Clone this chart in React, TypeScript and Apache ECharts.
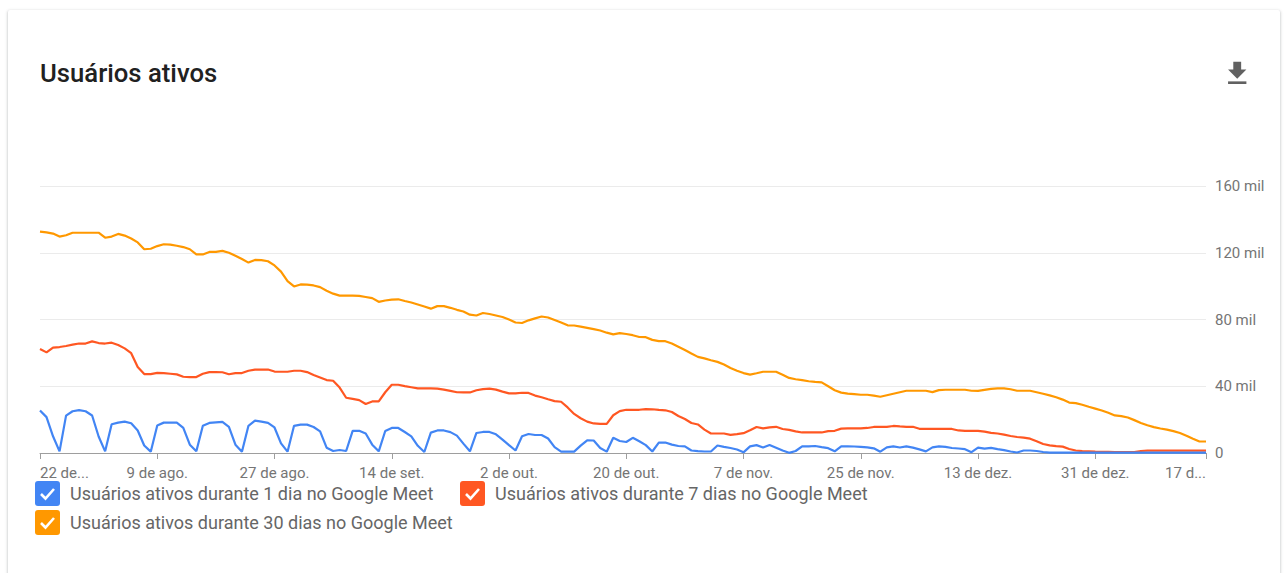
import React, { useEffect, useRef } from "react";
import * as echarts from "echarts";

const seriesNames = [
  "Usuários ativos durante 1 dia no Google Meet",
  "Usuários ativos durante 7 dias no Google Meet",
  "Usuários ativos durante 30 dias no Google Meet",
];
const seriesColors = ["#4285f4", "#ff5722", "#ff9800"];

const tickLabels = [
  "22 de...", "9 de ago.", "27 de ago.", "14 de set.", "2 de out.", "20 de out.",
  "7 de nov.", "25 de nov.", "13 de dez.", "31 de dez.", "17 d...",
];
const yTicks = [0, 40, 80, 120, 160];

// values in thousands (mil)
const oneDay = [
  25.5, 21.5, 10, 1, 22.4, 25, 25.7, 25, 22.5, 9.9,
  1, 17.2, 18.2, 18.8, 17.8, 13.5, 4.5, 0.8, 16.5, 18.2,
  18.2, 18.2, 15, 5, 1, 16.3, 18, 18.3, 18.6, 15.6,
  5, 0.8, 16.3, 19.4, 18.8, 18.1, 15.3, 5.8, 0.8, 16.3,
  17, 17, 15.6, 13, 3.2, 1.2, 1.8, 1.2, 13.3, 13.3,
  11.7, 5, 1, 13.2, 15, 15, 12.6, 10, 4.3, 0.6,
  12.2, 13.5, 13.5, 12.5, 10.4, 5.6, 1, 12, 12.6, 12.6,
  11.2, 8, 4.7, 1.5, 10, 11.4, 10.8, 10.8, 8.7, 3.5,
  0.8, 0.8, 0.8, 4.4, 7.6, 7.5, 3, 0.8, 9.1, 7.2,
  6.6, 9.1, 7, 4.7, 0.9, 6.2, 6.3, 5, 4.2, 4,
  1.5, 1.1, 0.9, 0.9, 4.5, 3.7, 3, 2.1, 0.4, 4,
  4.7, 3.3, 4.8, 3.2, 1.5, 0.1, 1.2, 4, 4, 4.2,
  3.5, 2.9, 1, 4, 4, 3.9, 3.7, 3.4, 2.8, 0.8,
  3.4, 4, 3.3, 4, 3.2, 2.2, 1, 3.4, 4, 3.7,
  3, 2.7, 2.3, 0.5, 3.2, 2.6, 3.1, 2.3, 1.7, 0.9,
  0.3, 1.5, 1.5, 1.2, 0.6, 0.2, 0.2, 0.2, 0.2, 0.2,
  0.2, 0.2, 0.2, 0.2, 0.2, 0.2, 0.2, 0.2, 0.2, 0.2,
  0.2, 0.2, 0.2, 0.2, 0.2, 0.2, 0.2, 0.2, 0.2, 0.2,
];

const sevenDays = [
  62.3, 60.3, 63.2, 63.5, 64.1, 64.9, 65.6, 65.6, 66.9, 65.9,
  65.6, 66.1, 64.7, 62.7, 59.8, 51.5, 47.3, 47.3, 48, 47.9,
  47.5, 47.1, 45.7, 45.5, 45.5, 47.5, 48.5, 48.5, 48.4, 47.2,
  47.9, 47.9, 49.3, 50, 50, 50, 48.8, 48.7, 48.7, 49.3,
  49.3, 48.5, 46.8, 45.3, 43.7, 43.3, 39.2, 33.1, 32.4, 31.7,
  29.4, 30.9, 30.9, 36.4, 40.9, 40.9, 40.1, 39.4, 38.7, 38.7,
  38.7, 38.6, 38, 37.2, 36.4, 36.3, 36.3, 37.6, 38.3, 38.6,
  38, 36.8, 35.7, 35.7, 36.1, 36, 34.4, 33.4, 32.2, 31.1,
  30.7, 27.3, 23.4, 20.8, 18.8, 17.7, 17.5, 17.5, 22.6, 25.1,
  25.9, 25.9, 25.9, 26.3, 26.2, 25.8, 25.6, 24.6, 22.2, 20.4,
  18, 17.1, 14, 11.7, 11.7, 11.7, 10.9, 11.3, 11.9, 13.6,
  15.6, 14.8, 15.4, 15.7, 14.4, 13.9, 13, 12.3, 12.3, 12.3,
  12.3, 13.1, 13.3, 14.6, 14.7, 14.7, 14.7, 15, 15.6, 15.7,
  15.7, 16.2, 15.9, 15.7, 15.7, 14.5, 14.4, 14.4, 14.4, 14.4,
  14.4, 13.5, 13.3, 13.3, 13.3, 12.8, 12.1, 11.7, 11, 10.2,
  9.6, 9.2, 8.6, 7, 5.4, 4.6, 4.1, 3.8, 2.4, 1.5,
  1.1, 1, 0.8, 0.7, 0.7, 0.6, 0.6, 0.6, 0.6, 1.2,
  1.4, 1.4, 1.4, 1.4, 1.4, 1.4, 1.4, 1.4, 1.4, 1.4,
];

const thirtyDays = [
  132.7, 132.2, 131.5, 129.7, 130.5, 132, 132, 132, 132, 132,
  129, 129.7, 131.3, 130.3, 128.5, 126.2, 122.1, 122.4, 124, 125.1,
  124.9, 124.2, 123.4, 122.1, 119, 119, 120.5, 120.5, 121.1, 120,
  118.2, 116.2, 114.1, 115.7, 115.6, 114.9, 112.4, 108.7, 103, 99.8,
  101, 100.9, 100.4, 99.4, 97.2, 95.5, 94.3, 94.3, 94.3, 94.2,
  93.5, 92.8, 90.6, 91.4, 91.9, 92.1, 91.1, 90.2, 89, 87.8,
  86.5, 88, 88, 87, 85.8, 84.8, 82.9, 82.4, 83.9, 83.3,
  82.4, 81.5, 80, 78.2, 77.9, 79.5, 80.7, 81.8, 81.2, 79.7,
  78.2, 76.5, 76.4, 75.7, 75, 74.2, 73.4, 72.1, 71.1, 71.8,
  71.3, 70.6, 69.5, 69.4, 67.8, 67, 67, 65.6, 63.7, 61.7,
  59.6, 57.6, 56.7, 55.6, 54.6, 53, 50.9, 49.3, 47.9, 47,
  47.8, 48.7, 48.7, 48.7, 46.9, 45, 44.2, 43.7, 43, 42.6,
  42.3, 40, 37.6, 36.2, 35.6, 35.3, 34.9, 34.9, 34.4, 33.7,
  34.6, 35.5, 36.4, 37.3, 37.3, 37.3, 37.3, 36.5, 37.7, 37.9,
  37.9, 37.9, 37.9, 37.3, 37.2, 37.8, 38.4, 38.7, 38.7, 38.2,
  37.3, 37.3, 37.3, 36.4, 35.5, 34.5, 33.4, 32, 30.2, 29.9,
  28.9, 27.7, 26.6, 25.5, 24.1, 22.5, 22.1, 21.3, 19.7, 18,
  16.6, 15.5, 14.7, 14, 13.1, 12, 10.4, 8.6, 6.9, 6.9,
];

const monthNames = ["jan.", "fev.", "mar.", "abr.", "mai.", "jun.", "jul.", "ago.", "set.", "out.", "nov.", "dez."];
const startDate = Date.UTC(2021, 6, 22);
const dates: string[] = oneDay.map((_, i) => {
  const d = new Date(startDate + i * 86400000);
  return `${d.getUTCDate()} de ${monthNames[d.getUTCMonth()]}`;
});
const labelStep = 18;
const lastIndex = dates.length - 1;
const showTick = (i: number) => i % labelStep === 0 || i === lastIndex;

const FONT = "Roboto, 'Noto Sans', Arial, sans-serif";

function legendItem(idx: number, x: number, y: number) {
  return {
    type: "group",
    x,
    y,
    children: [
      {
        type: "rect",
        shape: { x: 0, y: 0, width: 25, height: 25, r: 3 },
        style: { fill: seriesColors[idx] },
      },
      {
        type: "polyline",
        shape: { points: [[6, 13], [10.5, 17.5], [19, 8]] },
        style: { stroke: "#ffffff", lineWidth: 2.6, fill: null },
      },
      {
        type: "text",
        x: 35,
        y: 12.5,
        style: {
          text: seriesNames[idx],
          fontSize: 18,
          fontFamily: FONT,
          fill: "#666666",
          verticalAlign: "middle",
        },
      },
    ],
  };
}

export default function App() {
  const ref = useRef<HTMLDivElement>(null);
  useEffect(() => {
    if (!ref.current) return;
    const chart = echarts.init(ref.current, undefined, { renderer: "svg" });
    const data = [oneDay, sevenDays, thirtyDays];
    chart.setOption({
      animation: false,
      grid: { left: 40, right: 82, top: 186, bottom: 120, containLabel: false },
      xAxis: {
        type: "category",
        boundaryGap: false,
        data: dates,
        axisLine: { lineStyle: { color: "#9e9e9e", width: 1 } },
        axisTick: { show: true, interval: (i: number) => showTick(i), length: 6, lineStyle: { color: "#9e9e9e" } },
        axisLabel: {
          interval: (i: number) => showTick(i),
          formatter: (_v: string, i: number) => (i === lastIndex ? tickLabels[tickLabels.length - 1] : tickLabels[Math.round(i / labelStep)]),
          color: "#757575",
          fontSize: 15,
          fontFamily: FONT,
          margin: 12,
          alignMinLabel: "left",
          alignMaxLabel: "right",
          showMaxLabel: true,
          showMinLabel: true,
        },
        splitLine: { show: false },
      },
      yAxis: {
        type: "value",
        position: "right",
        min: yTicks[0],
        max: yTicks[yTicks.length - 1],
        interval: yTicks[1] - yTicks[0],
        axisLine: { show: false },
        axisTick: { show: false },
        axisLabel: {
          formatter: (v: number) => (v === 0 ? "0" : `${v} mil`),
          color: "#757575",
          fontSize: 15,
          fontFamily: FONT,
          margin: 9,
        },
        splitLine: { lineStyle: { color: "#ebebeb", width: 1 } },
      },
      series: data.map((d, i) => ({
        name: seriesNames[i],
        type: "line",
        data: d,
        showSymbol: false,
        symbol: "none",
        smooth: false,
        lineStyle: { color: seriesColors[i], width: 2.2 },
        itemStyle: { color: seriesColors[i] },
        z: 3 - i,
      })),
      graphic: [
        {
          type: "text",
          x: 40,
          y: 73,
          style: {
            text: "Usuários ativos",
            fontSize: 25.7,
            fontWeight: 500,
            fontFamily: FONT,
            fill: "#212121",
            verticalAlign: "middle",
          },
        },
        {
          type: "group",
          x: 1221.5,
          y: 57.8,
          scaleX: 1.31,
          scaleY: 1.31,
          children: [
            {
              type: "polygon",
              shape: { points: [[19, 9], [15, 9], [15, 3], [9, 3], [9, 9], [5, 9], [12, 16]] },
              style: { fill: "#616161" },
            },
            {
              type: "rect",
              shape: { x: 5, y: 18, width: 14, height: 2 },
              style: { fill: "#616161" },
            },
          ],
        },
        legendItem(0, 35, 481),
        legendItem(1, 460, 481),
        legendItem(2, 35, 510),
      ],
    });
    return () => chart.dispose();
  }, []);

  return (
    <div style={{ position: "absolute", left: 0, top: 0, width: 1288, height: 573, overflow: "hidden", background: "#fff" }}>
      <div
        style={{
          position: "absolute",
          left: 8,
          top: 10,
          width: 1272,
          height: 600,
          borderRadius: 2,
          background: "#fff",
          boxShadow: "0 1px 2px rgba(60,64,67,0.25), 0 1px 3px 1px rgba(60,64,67,0.12)",
        }}
      />
      <div ref={ref} style={{ position: "absolute", left: 0, top: 0, width: 1288, height: 573 }} />
    </div>
  );
}
